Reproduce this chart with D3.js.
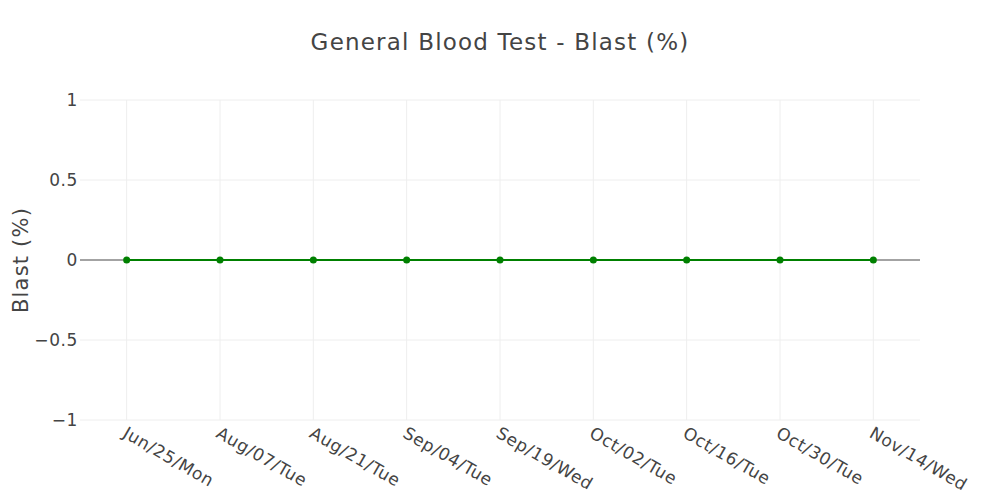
<!DOCTYPE html>
<html>
<head>
<meta charset="utf-8">
<script src="https://cdn.jsdelivr.net/npm/d3@7"></script>
<style>
  body { margin: 0; background: #fff; }
  text { font-family: "DejaVu Sans", Verdana, sans-serif; fill: #444; }
</style>
</head>
<body>
<svg width="1000" height="500"></svg>
<script>
var dates = ["Jun/25/Mon", "Aug/07/Tue", "Aug/21/Tue", "Sep/04/Tue", "Sep/19/Wed",
             "Oct/02/Tue", "Oct/16/Tue", "Oct/30/Tue", "Nov/14/Wed"];
var blast = [0, 0, 0, 0, 0, 0, 0, 0, 0];
var yTicks = [-1, -0.5, 0, 0.5, 1];

var svg = d3.select("svg"),
    margin = {top: 100, right: 80, bottom: 80, left: 80},
    width = svg.attr("width") - margin.left - margin.right,
    height = svg.attr("height") - margin.top - margin.bottom,
    g = svg.append("g").attr("transform", "translate(" + margin.left + "," + margin.top + ")");

var x = d3.scalePoint().domain(dates).range([0, width]).padding(0.5),
    y = d3.scaleLinear().domain([-1, 1]).range([height, 0]);

// grid lines
g.append("g")
  .selectAll("line")
  .data(dates)
  .enter().append("line")
    .attr("x1", function(d) { return x(d); })
    .attr("x2", function(d) { return x(d); })
    .attr("y1", 0)
    .attr("y2", height)
    .attr("stroke", "#eee")
    .attr("stroke-width", 1);

g.append("g")
  .selectAll("line")
  .data(yTicks.filter(function(d) { return d !== 0; }))
  .enter().append("line")
    .attr("x1", 0)
    .attr("x2", width)
    .attr("y1", function(d) { return y(d); })
    .attr("y2", function(d) { return y(d); })
    .attr("stroke", "#eee")
    .attr("stroke-width", 1);

// zero line
g.append("line")
    .attr("x1", 0)
    .attr("x2", width)
    .attr("y1", y(0))
    .attr("y2", y(0))
    .attr("stroke", "#a3a3a3")
    .attr("stroke-width", 2);

// y-axis labels
var yAxis = g.append("g")
    .call(d3.axisLeft(y).tickValues(yTicks).tickSize(0).tickPadding(2)
      .tickFormat(function(d) { return d < 0 ? "\u2212" + Math.abs(d) : d; }));
yAxis.select(".domain").remove();
yAxis.selectAll("text")
    .style("font-size", "17px")
    .style("letter-spacing", "0.6px")
    .attr("fill", "#444");

// x-axis labels
g.append("g")
  .selectAll("text")
  .data(dates)
  .enter().append("text")
    .attr("transform", function(d) { return "translate(" + (x(d) + 1) + "," + (height + 6) + ") rotate(30)"; })
    .attr("dy", "0.71em")
    .style("font-size", "17px")
    .style("letter-spacing", "0.6px")
    .attr("text-anchor", "start")
    .text(function(d) { return d; });

// line and markers
var line = d3.line()
    .x(function(d, i) { return x(dates[i]); })
    .y(function(d) { return y(d); });

g.append("path")
    .datum(blast)
    .attr("fill", "none")
    .attr("stroke", "green")
    .attr("stroke-width", 2)
    .attr("d", line);

g.selectAll(".dot")
  .data(blast)
  .enter().append("circle")
    .attr("class", "dot")
    .attr("cx", function(d, i) { return x(dates[i]); })
    .attr("cy", function(d) { return y(d); })
    .attr("r", 3.5)
    .attr("fill", "green");

// titles
svg.append("text")
    .attr("x", 500)
    .attr("y", 50)
    .attr("text-anchor", "middle")
    .style("font-size", "23px")
    .style("letter-spacing", "1.2px")
    .text("General Blood Test - Blast (%)");

svg.append("text")
    .attr("transform", "translate(28," + (margin.top + height / 2) + ") rotate(-90)")
    .attr("text-anchor", "middle")
    .style("font-size", "21px")
    .style("letter-spacing", "1.2px")
    .text("Blast (%)");
</script>
</body>
</html>
